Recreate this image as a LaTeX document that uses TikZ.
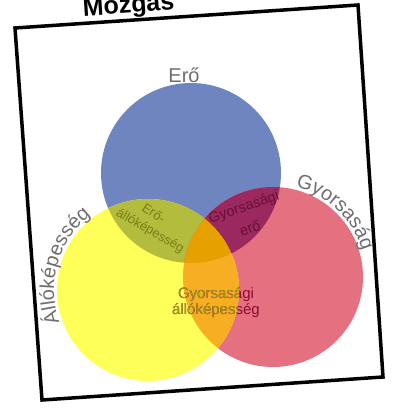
\documentclass[tikz,border=0pt]{standalone}
\usepackage{fontspec}
\setmainfont{Liberation Sans}
\usetikzlibrary{decorations.text,calc}
\definecolor{cblue}{HTML}{6F85C0}
\definecolor{cred}{HTML}{E5707F}
\definecolor{cyel}{HTML}{FFFF5A}
\definecolor{cby}{HTML}{B4BC3E}
\definecolor{cbr}{HTML}{9B285F}
\definecolor{cry}{HTML}{F7AE22}
\definecolor{call}{HTML}{E6A000}
\definecolor{tgray}{HTML}{6E6E6E}
\definecolor{tolive}{HTML}{7A7E16}
\definecolor{tmaroon}{HTML}{690F37}
\definecolor{tolivetwo}{HTML}{9A9A18}
\definecolor{tmaroontwo}{HTML}{8C0A32}
\tikzset{
  outerlbl/.style={font=\fontsize{20}{24}\selectfont, text=tgray, inner sep=0pt},
  innerlbl/.style={inner sep=0pt, align=center},
  frameline/.style={line width=3.5pt, line join=miter}
}
\begin{document}
\begin{tikzpicture}[x=1pt,y=1pt]
\useasboundingbox (0,0) rectangle (415,415);
\coordinate (B) at (191,242);
\coordinate (R) at (273,138);
\coordinate (Y) at (148,125);
% circles
\fill[cblue] (B) circle[radius=90];
\fill[cred] (R) circle[radius=90];
\fill[cyel] (Y) circle[radius=91];
\begin{scope}\clip (B) circle[radius=90]; \fill[cby] (Y) circle[radius=91]; \end{scope}
\begin{scope}\clip (B) circle[radius=90]; \fill[cbr] (R) circle[radius=90]; \end{scope}
\begin{scope}\clip (R) circle[radius=90]; \fill[cry] (Y) circle[radius=91]; \end{scope}
\begin{scope}\clip (B) circle[radius=90]; \clip (R) circle[radius=90]; \fill[call] (Y) circle[radius=91]; \end{scope}
% frame
\coordinate (tl) at (15,387);
\coordinate (tr) at (358,410);
\coordinate (br) at (383,38);
\coordinate (bl) at (42,15);
\draw[frameline] (tl) -- (tr) -- (br) -- (bl) -- cycle;
% title
\node[font=\fontsize{25}{30}\selectfont\bfseries, anchor=base, rotate=3.8, inner sep=0pt] (title) at (129,402) {Mozgás};
% outer labels
\node[outerlbl, anchor=base] (ero) at (184,332) {Erő};
\path[decorate, decoration={text along path, text align=left,
  text={|\fontsize{20}{24}\selectfont\color{tgray}|Gyorsaság}}]
  ($(R)+(76:93)$) arc[start angle=76, end angle=0, radius=93];
\path[decorate, decoration={text along path, text align=left,
  text={|\fontsize{20}{24}\selectfont\color{tgray}|Állóképesség}}]
  ($(Y)+(200:94)$) arc[start angle=200, end angle=110, radius=94];
% inner labels
\node[innerlbl, font=\fontsize{13}{15}\selectfont, text=tolive, rotate=-33] (e1) at (154,202) {Erő-};
\node[innerlbl, font=\fontsize{13}{15}\selectfont, text=tolive, rotate=-30] (e2) at (150,184) {állóképesség};
\node[innerlbl, font=\fontsize{14.5}{18}\selectfont, text=tmaroon, rotate=19] (g1) at (244,207) {Gyorsasági};
\node[innerlbl, font=\fontsize{14.5}{18}\selectfont, text=tmaroon, rotate=19] (g2) at (250,187) {erő};
\node[innerlbl, font=\fontsize{15}{16}\selectfont, text=tmaroontwo] (ga) at (216,112) {Gyorsasági\\állóképesség};
\begin{scope}
\clip (Y) circle[radius=91];
\node[innerlbl, font=\fontsize{15}{16}\selectfont, text=tolivetwo] (gb) at (216,112) {Gyorsasági\\állóképesség};
\end{scope}
\end{tikzpicture}
\end{document}
